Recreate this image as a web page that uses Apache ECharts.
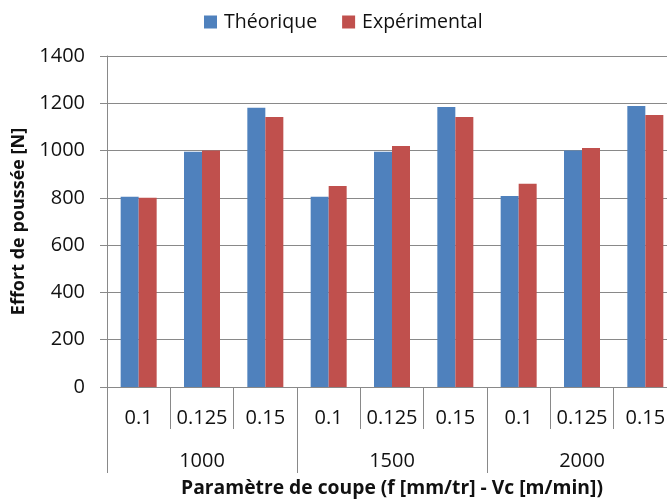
<!DOCTYPE html>
<html>
<head>
<meta charset="utf-8">
<script src="https://cdn.jsdelivr.net/npm/echarts@6/dist/echarts.min.js"></script>
<style>
  html, body { margin: 0; padding: 0; background: #fff; width: 667px; height: 503px; overflow: hidden; }
  #chart { width: 677px; height: 503px; }
</style>
</head>
<body>
<div id="chart"></div>
<script>
// Feed rate f [mm/tr] for each bar pair, grouped by cutting speed Vc [m/min]
const feedLabels = ['0.1', '0.125', '0.15', '0.1', '0.125', '0.15', '0.1', '0.125', '0.15'];
const speedLabels = ['1000', '1500', '2000'];

// Thrust force [N]
const theorique = [805, 995, 1181, 805, 995, 1184, 808, 1000, 1188];
const experimental = [800, 1000, 1142, 850, 1019, 1142, 860, 1011, 1150];

// Value axis range
const yMin = 0;
const yMax = 1400;
const yStep = 200;

const FONT = 'Open Sans';
const GRAY = '#898989';
const TEXT = '#111';

const chart = echarts.init(document.getElementById('chart'), null, { renderer: 'canvas' });

chart.setOption({
  animation: false,
  backgroundColor: '#fff',
  textStyle: { fontFamily: FONT, color: TEXT },
  legend: {
    top: 7,
    left: 199,
    itemWidth: 13,
    itemHeight: 13,
    itemGap: 25,
    icon: 'rect',
    textStyle: { fontFamily: FONT, fontSize: 19.5, color: TEXT, padding: [0, 0, 0, 2] },
    data: ['Théorique', 'Expérimental']
  },
  // the last category boundary sits just past the visible edge
  grid: { left: 107, top: 56, right: 0, bottom: 115, containLabel: false },
  xAxis: [
    {
      type: 'category',
      data: feedLabels,
      position: 'bottom',
      offset: 0,
      axisLine: { lineStyle: { color: GRAY, width: 1 } },
      axisTick: { show: true, interval: 0, length: 42, lineStyle: { color: GRAY } },
      axisLabel: { interval: 0, margin: 21, fontFamily: FONT, fontSize: 20, color: TEXT },
      splitLine: { show: false }
    },
    {
      type: 'category',
      data: speedLabels,
      position: 'bottom',
      offset: 0,
      axisLine: { show: false },
      axisTick: { show: true, interval: 0, length: 86, lineStyle: { color: GRAY } },
      axisLabel: { interval: 0, margin: 64, fontFamily: FONT, fontSize: 20, color: TEXT },
      name: 'Paramètre de coupe (f [mm/tr] - Vc [m/min])',
      nameLocation: 'middle',
      nameGap: 92,
      nameTextStyle: { fontFamily: FONT, fontSize: 19.3, fontWeight: 'bold', color: TEXT },
      splitLine: { show: false }
    }
  ],
  yAxis: {
    type: 'value',
    min: yMin,
    max: yMax,
    interval: yStep,
    axisLine: { show: true, lineStyle: { color: GRAY, width: 1 } },
    axisTick: { show: true, length: 7, lineStyle: { color: GRAY } },
    axisLabel: {
      margin: 22,
      fontFamily: FONT,
      fontSize: 20,
      color: TEXT,
      formatter: (v) => String(v)
    },
    splitLine: { show: true, lineStyle: { color: GRAY, width: 1 } },
    name: 'Effort de poussée [N]',
    nameLocation: 'middle',
    nameGap: 67,
    nameRotate: 90,
    nameTextStyle: { fontFamily: FONT, fontSize: 18, fontWeight: 'bold', color: TEXT }
  },
  series: [
    {
      name: 'Théorique',
      type: 'bar',
      xAxisIndex: 0,
      data: theorique,
      barWidth: 18,
      barGap: '0%',
      itemStyle: { color: '#4F81BD' }
    },
    {
      name: 'Expérimental',
      type: 'bar',
      xAxisIndex: 0,
      data: experimental,
      barWidth: 18,
      barGap: '0%',
      itemStyle: { color: '#C0504D' }
    }
  ]
});
</script>
</body>
</html>
